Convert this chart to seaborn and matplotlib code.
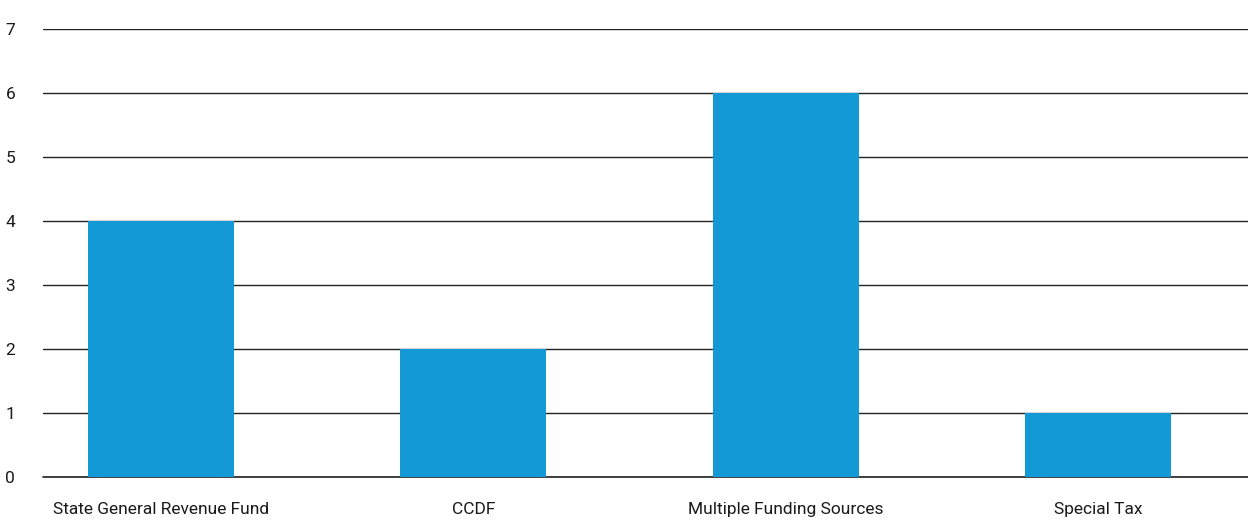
import matplotlib
matplotlib.use("Agg")
import matplotlib.pyplot as plt
import seaborn as sns
import pandas as pd

categories = ["State General Revenue Fund", "CCDF", "Multiple Funding Sources", "Special Tax"]
counts = [4, 2, 6, 1]
y_ticks = [0, 1, 2, 3, 4, 5, 6, 7]

sns.set_theme(style="white")
plt.rcParams["font.family"] = ["Roboto", "DejaVu Sans"]

df = pd.DataFrame({"source": categories, "count": counts})

fig = plt.figure(figsize=(12.48, 5.2), dpi=100)
ax = fig.add_axes([43 / 1248, 43 / 520, 1 - 43 / 1248, 448 / 520])

sns.barplot(data=df, x="source", y="count", color="#1399D6", width=0.467,
            saturation=1, linewidth=0, ax=ax, zorder=3)

ax.set_ylim(0, 7)
ax.set_xlim(-0.378, 3.48)
ax.set_yticks(y_ticks)
ax.yaxis.grid(True, color="#222222", linewidth=1)
ax.set_axisbelow(True)
ax.axhline(0, color="#222222", linewidth=1.2, zorder=2, clip_on=False)
for s in ax.spines.values():
    s.set_visible(False)
ax.tick_params(axis="y", length=0, pad=20, labelsize=12.5, colors="#1a1a1a")
ax.tick_params(axis="x", length=0, pad=18, labelsize=12.5, colors="#1a1a1a")
ax.set_xlabel("")
ax.set_ylabel("")

fig.savefig("out.png", dpi=100)
